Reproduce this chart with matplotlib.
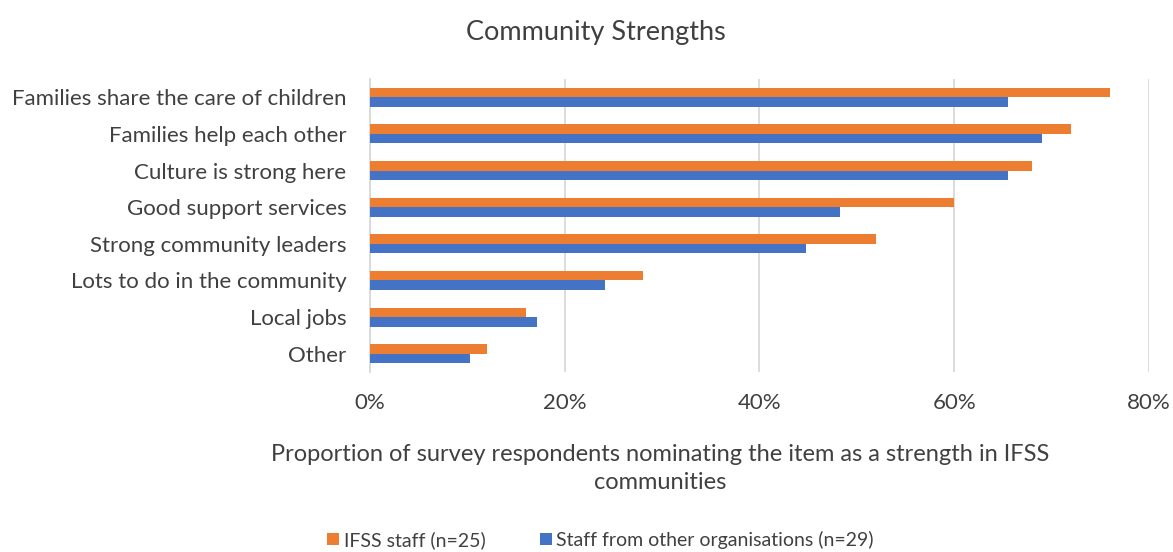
import matplotlib.pyplot as plt
import numpy as np
from matplotlib.ticker import FuncFormatter

plt.rcParams['font.family'] = ['Lato', 'DejaVu Sans']

categories = ['Families share the care of children', 'Families help each other',
              'Culture is strong here', 'Good support services',
              'Strong community leaders', 'Lots to do in the community',
              'Local jobs', 'Other']
ifss = [76, 72, 68, 60, 52, 28, 16, 12]
other = [65.5, 69.0, 65.5, 48.3, 44.8, 24.1, 17.2, 10.3]
xticks = [0, 20, 40, 60, 80]

txt = '#404040'
fig = plt.figure(figsize=(11.73, 5.52), dpi=100)
ax = fig.add_axes([0.3154, 0.326, 0.6641, 0.531])

y = np.arange(len(categories))
h = 0.26
ax.barh(y - h / 2, ifss, height=h, color='#ED7D31', label='IFSS staff (n=25)', zorder=3)
ax.barh(y + h / 2, other, height=h, color='#4472C4',
        label='Staff from other organisations (n=29)', zorder=3)

ax.set_ylim(len(categories) - 0.5, -0.5)
ax.set_xlim(0, 80)
ax.set_yticks(y)
ax.set_yticklabels(categories, fontsize=16, color=txt)
ax.set_xticks(xticks)
ax.xaxis.set_major_formatter(FuncFormatter(lambda v, p: f'{v:.0f}%'))
ax.tick_params(axis='x', labelsize=16, labelcolor=txt, length=0, pad=15)
ax.tick_params(axis='y', length=0, pad=17)
ax.grid(axis='x', color='#D9D9D9', linewidth=1.3, zorder=0)
for s in ['top', 'right', 'bottom']:
    ax.spines[s].set_visible(False)
ax.spines['left'].set_color('#D9D9D9')
ax.spines['left'].set_linewidth(1.3)

fig.text(0.5627, 0.151,
         'Proportion of survey respondents nominating the item as a strength in IFSS\ncommunities',
         ha='center', va='center', fontsize=17, color=txt, linespacing=1.45)
fig.text(0.508, 0.942, 'Community Strengths', ha='center', va='center', fontsize=19.5, color=txt)

fig.legend(loc='center', bbox_to_anchor=(0.512, 0.022), ncol=2, frameon=False,
           fontsize=14, labelcolor=txt, handlelength=0.6, handleheight=0.6,
           handletextpad=0.25, columnspacing=2.8, borderpad=0, borderaxespad=0)

fig.savefig('out.png', dpi=100)
